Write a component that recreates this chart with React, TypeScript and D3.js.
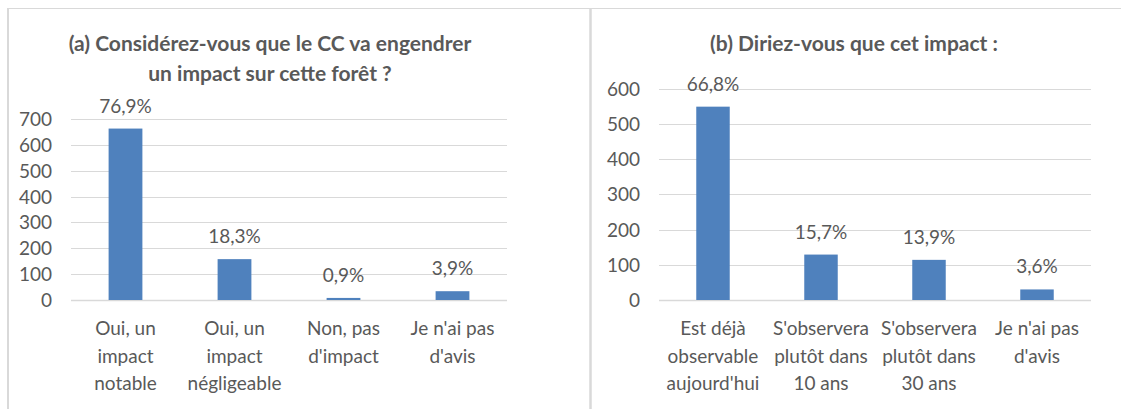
import React, { useEffect, useRef } from "react";
import * as d3 from "d3";

const catsA = [["Oui, un", "impact", "notable"], ["Oui, un", "impact", "négligeable"], ["Non, pas", "d'impact"], ["Je n'ai pas", "d'avis"]];
const valsA = [663, 158, 8, 34];
const pctA = ["76,9%", "18,3%", "0,9%", "3,9%"];
const ticksA = [0, 100, 200, 300, 400, 500, 600, 700];

const catsB = [["Est déjà", "observable", "aujourd'hui"], ["S'observera", "plutôt dans", "10 ans"], ["S'observera", "plutôt dans", "30 ans"], ["Je n'ai pas", "d'avis"]];
const valsB = [549, 129, 114, 30];
const pctB = ["66,8%", "15,7%", "13,9%", "3,6%"];
const ticksB = [0, 100, 200, 300, 400, 500, 600];

const FONT = "Lato, 'Open Sans', sans-serif";
const TXT = "#595959";
const GRID = "#d9d9d9";
const BAR = "#4f81bd";
const FS = 19;

type Panel = {
  cats: string[][]; vals: number[]; pct: string[]; ticks: number[];
  title: string[]; titleX: number; x0: number; x1: number; yTop: number; yMax: number;
};

const panels: Panel[] = [
  { cats: catsA, vals: valsA, pct: pctA, ticks: ticksA, title: ["(a) Considérez-vous que le CC va engendrer", "un impact sur cette forêt ?"], titleX: 270, x0: 71, x1: 507, yTop: 119, yMax: 700 },
  { cats: catsB, vals: valsB, pct: pctB, ticks: ticksB, title: ["(b) Diriez-vous que cet impact :"], titleX: 854, x0: 659, x1: 1091, yTop: 88.7, yMax: 600 },
];

export default function App() {
  const ref = useRef<SVGSVGElement>(null);
  useEffect(() => {
    const svg = d3.select(ref.current);
    svg.selectAll("*").remove();
    // frame
    svg.append("line").attr("x1", 7).attr("x2", 1121).attr("y1", 8.5).attr("y2", 8.5).attr("stroke", GRID).attr("stroke-width", 1);
    svg.append("line").attr("x1", 8).attr("x2", 8).attr("y1", 8).attr("y2", 409).attr("stroke", GRID).attr("stroke-width", 2);
    svg.append("line").attr("x1", 590.5).attr("x2", 590.5).attr("y1", 8).attr("y2", 409).attr("stroke", GRID).attr("stroke-width", 2.5);

    const y0 = 300;
    panels.forEach((p) => {
      const g = svg.append("g");
      const x = d3.scaleBand<number>().domain(d3.range(p.vals.length)).range([p.x0, p.x1]).paddingInner(0.69).paddingOuter(0.345);
      const y = d3.scaleLinear().domain([0, p.yMax]).range([y0, p.yTop]);
      // title
      const t = g.append("text").attr("text-anchor", "middle").attr("font-family", FONT).attr("font-weight", "bold")
        .attr("font-size", 21).attr("fill", TXT);
      p.title.forEach((line, i) => t.append("tspan").attr("x", p.titleX).attr("y", 51 + i * 30).text(line));
      // grid
      g.selectAll(".grid").data(p.ticks).enter().append("line")
        .attr("x1", p.x0).attr("x2", p.x1)
        .attr("y1", (d) => Math.round(y(d)) + 0.5).attr("y2", (d) => Math.round(y(d)) + 0.5)
        .attr("stroke", GRID).attr("stroke-width", (d) => (d === 0 ? 1.5 : 1));
      g.selectAll(".tick").data(p.ticks).enter().append("text")
        .attr("x", p.x0 - 19).attr("y", (d) => y(d) + 7)
        .attr("text-anchor", "end").attr("font-family", FONT).attr("font-size", FS).attr("fill", TXT)
        .text((d) => String(d));
      // bars
      g.selectAll(".bar").data(p.vals).enter().append("rect")
        .attr("x", (_, i) => x(i)!).attr("width", x.bandwidth())
        .attr("y", (d) => y(d)).attr("height", (d) => y0 - y(d)).attr("fill", BAR);
      g.selectAll(".lbl").data(p.vals).enter().append("text")
        .attr("x", (_, i) => x(i)! + x.bandwidth() / 2).attr("y", (d) => y(d) - 16)
        .attr("text-anchor", "middle").attr("font-family", FONT).attr("font-size", FS).attr("fill", TXT)
        .text((_, i) => p.pct[i]);
      // categories
      p.cats.forEach((lines, i) => {
        const ct = g.append("text").attr("text-anchor", "middle").attr("font-family", FONT).attr("font-size", FS).attr("fill", TXT);
        lines.forEach((l, j) => ct.append("tspan").attr("x", x(i)! + x.bandwidth() / 2).attr("y", 335 + j * 27.5).text(l));
      });
    });
  }, []);
  return (
    <svg ref={ref} width={1121} height={409} style={{ position: "absolute", left: 0, top: 0, background: "#fff" }} />
  );
}
